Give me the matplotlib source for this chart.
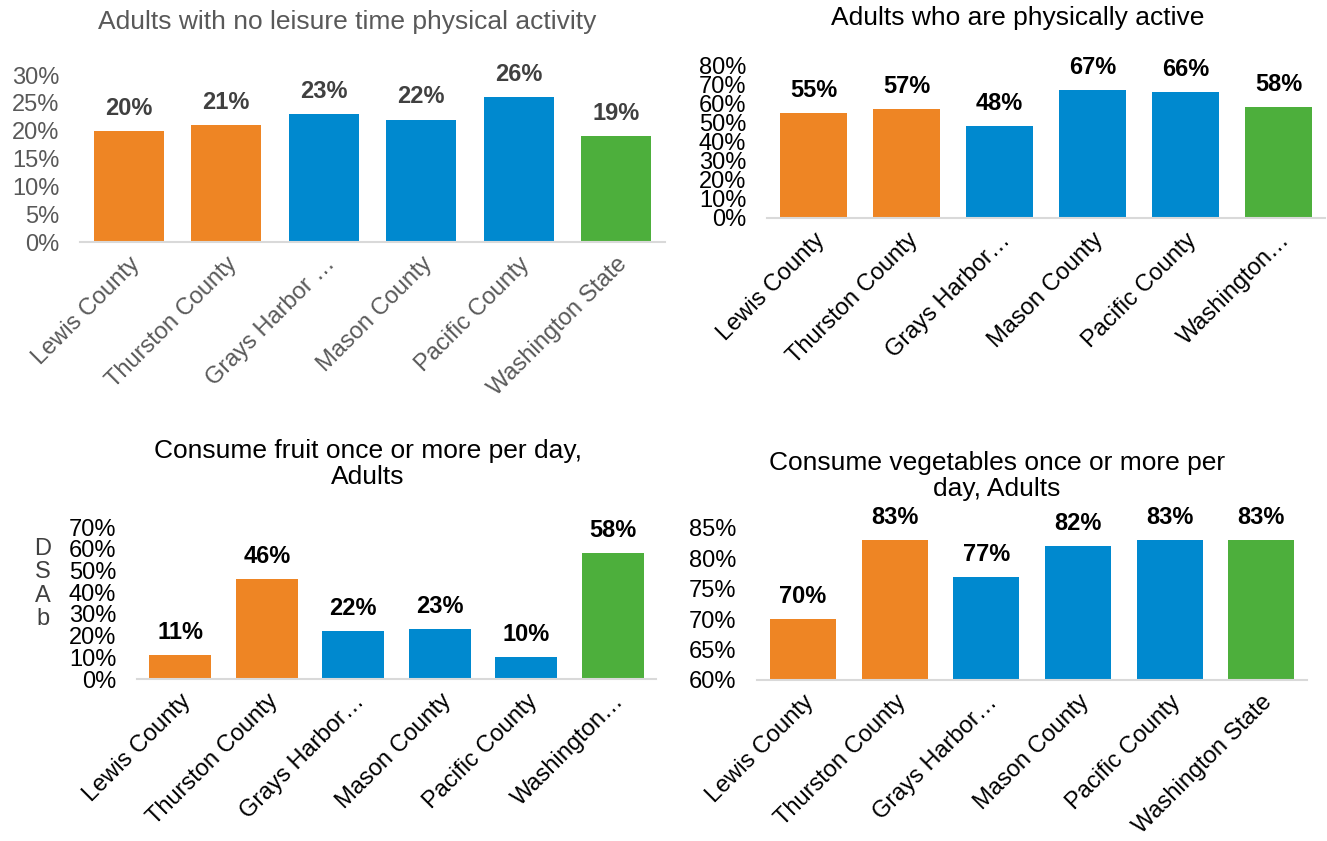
import matplotlib.pyplot as plt
from matplotlib.ticker import PercentFormatter

plt.rcParams['font.family'] = ['Liberation Sans', 'DejaVu Sans']

# Data (percent)
labels_tl = ['Lewis County', 'Thurston County', 'Grays Harbor \u2026', 'Mason County',
             'Pacific County', 'Washington State']
labels_tr = ['Lewis County', 'Thurston County', 'Grays Harbor\u2026', 'Mason County',
             'Pacific County', 'Washington\u2026']
labels_bl = labels_tr
labels_br = ['Lewis County', 'Thurston County', 'Grays Harbor\u2026', 'Mason County',
             'Pacific County', 'Washington State']

no_leisure = [20, 21, 23, 22, 26, 19]
phys_active = [55, 57, 48, 67, 66, 58]
fruit = [11, 46, 22, 23, 10, 58]
vegetables = [70, 83, 77, 82, 83, 83]

ORANGE = '#EE8524'
BLUE = '#0089CF'
GREEN = '#4DAF3C'
bar_colors = [ORANGE, ORANGE, BLUE, BLUE, BLUE, GREEN]

fig = plt.figure(figsize=(13.27, 8.41), dpi=100)
W, H = 1327, 841


def make_axes(x0, x1, y_bottom, y_top):
    return fig.add_axes([x0 / W, 1 - y_bottom / H, (x1 - x0) / W, (y_bottom - y_top) / H])


def draw(ax, labels, values, ymin, ymax, step, text_color, label_color):
    x = range(len(values))
    ax.bar(x, values, width=0.72, color=bar_colors, zorder=2)
    ax.set_xlim(-0.5, len(values) - 0.5)
    ax.set_ylim(ymin, ymax)
    ax.set_yticks(range(ymin, ymax + 1, step))
    ax.yaxis.set_major_formatter(PercentFormatter(decimals=0))
    ax.set_xticks(list(x))
    ax.set_xticklabels(labels, rotation=45, ha='right', rotation_mode='anchor',
                       fontsize=17, color=text_color)
    ax.tick_params(axis='y', length=0, pad=15, labelsize=17, labelcolor=text_color)
    ax.tick_params(axis='x', length=0, pad=8)
    for s in ['top', 'right', 'left']:
        ax.spines[s].set_visible(False)
    ax.spines['bottom'].set_color('#D9D9D9')
    ax.spines['bottom'].set_linewidth(1.5)
    for xi, v in zip(x, values):
        ax.annotate(f'{v}%', (xi, v), xytext=(0, 8), textcoords='offset points',
                    ha='center', va='bottom', fontsize=17, fontweight='bold',
                    color=label_color)


ax1 = make_axes(80, 665, 242, 75)
draw(ax1, labels_tl, no_leisure, 0, 30, 5, '#595959', '#404040')
fig.text(347 / W, 1 - 22 / H, 'Adults with no leisure time physical activity',
         ha='center', va='center', fontsize=19, color='#595959')

ax2 = make_axes(767, 1325, 218, 65)
draw(ax2, labels_tr, phys_active, 0, 80, 10, 'black', 'black')
fig.text(1018 / W, 1 - 18 / H, 'Adults who are physically active',
         ha='center', va='center', fontsize=19, color='black')

ax3 = make_axes(137, 656, 679, 527)
draw(ax3, labels_bl, fruit, 0, 70, 10, 'black', 'black')
fig.text(368 / W, 1 - 464 / H, 'Consume fruit once or more per day,\nAdults',
         ha='center', va='center', fontsize=19, color='black', linespacing=1.1)
fig.text(43 / W, 1 - 584 / H, 'D\nS\nA\nb', ha='center', va='center',
         fontsize=17, color='#404040', linespacing=1.08)

ax4 = make_axes(757, 1307, 680, 528)
draw(ax4, labels_br, vegetables, 60, 85, 5, 'black', 'black')
fig.text(997 / W, 1 - 476 / H, 'Consume vegetables once or more per\nday, Adults',
         ha='center', va='center', fontsize=19, color='black', linespacing=1.1)

plt.savefig('out.png', dpi=100)
